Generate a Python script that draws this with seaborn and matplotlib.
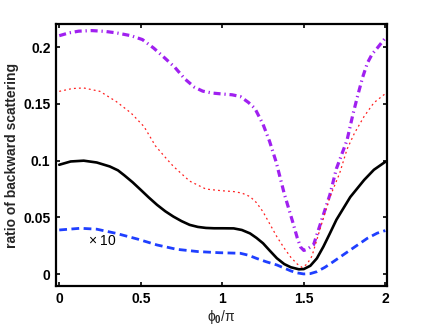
import matplotlib
matplotlib.use("Agg")
import matplotlib.pyplot as plt
import seaborn as sns

sns.set_theme(style="ticks")
plt.rcParams['font.family'] = ['Liberation Sans', 'DejaVu Sans']
plt.rcParams['mathtext.fontset'] = 'custom'
plt.rcParams['mathtext.rm'] = 'Liberation Sans'
plt.rcParams['mathtext.it'] = 'Liberation Sans'
plt.rcParams['mathtext.bf'] = 'Liberation Sans:bold'

# purple dash-dot
x_purple = [0, 0.06, 0.12, 0.2, 0.28, 0.35, 0.44, 0.51, 0.58, 0.65, 0.71, 0.77, 0.83, 0.88, 0.94, 1.0,
            1.06, 1.11, 1.16, 1.2, 1.25, 1.29, 1.33, 1.38, 1.43, 1.46, 1.48, 1.50, 1.52, 1.56, 1.61,
            1.66, 1.70, 1.765, 1.80, 1.83, 1.86, 1.89, 1.92, 1.95, 2.0]
y_purple = [0.210, 0.2125, 0.214, 0.2145, 0.2138, 0.2125, 0.210, 0.2066, 0.199, 0.190, 0.182, 0.172,
            0.1646, 0.1612, 0.1595, 0.1587, 0.158, 0.1565, 0.1513, 0.146, 0.132, 0.117, 0.099, 0.071,
            0.047, 0.032, 0.024, 0.021, 0.022, 0.026, 0.048, 0.070, 0.093, 0.118, 0.140, 0.157, 0.173,
            0.186, 0.194, 0.199, 0.208]

# red dotted
x_red = [0, 0.08, 0.15, 0.25, 0.35, 0.44, 0.52, 0.59, 0.65, 0.70, 0.80, 0.90, 1.0, 1.07, 1.12, 1.17,
         1.21, 1.25, 1.335, 1.38, 1.42, 1.46, 1.49, 1.52, 1.55, 1.60, 1.66, 1.72, 1.765, 1.81, 1.87,
         1.93, 2.0]
y_red = [0.161, 0.1635, 0.164, 0.161, 0.152, 0.142, 0.130, 0.113, 0.103, 0.095, 0.082, 0.075, 0.0735,
         0.0728, 0.0715, 0.0684, 0.063, 0.055, 0.033, 0.023, 0.015, 0.009, 0.006, 0.009, 0.016, 0.040,
         0.068, 0.089, 0.110, 0.124, 0.139, 0.151, 0.159]

# black solid
x_black = [0, 0.07, 0.15, 0.23, 0.31, 0.36, 0.4, 0.45, 0.5, 0.55, 0.6, 0.65, 0.7, 0.75, 0.8, 0.85,
           0.9, 0.95, 1.0, 1.07, 1.12, 1.17, 1.21, 1.25, 1.29, 1.335, 1.38, 1.42, 1.47, 1.50, 1.54,
           1.58, 1.62, 1.66, 1.70, 1.785, 1.87, 1.93, 2.0]
y_black = [0.0964, 0.0993, 0.100, 0.0984, 0.0949, 0.0915, 0.087, 0.081, 0.0743, 0.0675, 0.0611, 0.0555,
           0.0508, 0.0468, 0.0435, 0.0417, 0.0408, 0.0405, 0.0405, 0.0404, 0.039, 0.036, 0.032, 0.0273,
           0.021, 0.0141, 0.009, 0.0062, 0.0044, 0.0046, 0.0075, 0.014, 0.0243, 0.036, 0.048, 0.068,
           0.083, 0.092, 0.099]

# blue dashed (x10)
x_blue = [0, 0.13, 0.23, 0.35, 0.48, 0.6, 0.72, 0.85, 0.98, 1.11, 1.16, 1.21, 1.27, 1.335, 1.42, 1.46,
          1.5, 1.54, 1.58, 1.63, 1.68, 1.785, 1.89, 1.95, 2.0]
y_blue = [0.039, 0.0405, 0.0397, 0.036, 0.031, 0.0258, 0.022, 0.020, 0.019, 0.0185, 0.0168, 0.014,
          0.011, 0.0082, 0.003, 0.0012, 0.0003, 0.0006, 0.0023, 0.0062, 0.011, 0.0214, 0.0317, 0.0362,
          0.0385]

x_ticks = [0, 0.5, 1, 1.5, 2]
x_ticklabels = ['0', '0.5', '1', '1.5', '2']
y_ticks = [0, 0.05, 0.1, 0.15, 0.2]
y_ticklabels = ['0', '0.05', '0.1', '0.15', '0.2']

fig = plt.figure(figsize=(4.29, 3.27), dpi=100)
ax = fig.add_axes([0.1305, 0.1254, 0.7715, 0.8012])

sns.lineplot(x=x_purple, y=y_purple, ax=ax, color='#A020F0', linewidth=2.3,
             linestyle=(0, (2.2, 1.2, 0.4, 1.2)))
sns.lineplot(x=x_red, y=y_red, ax=ax, color='#FF2020', linewidth=0.9,
             linestyle=(0, (1.5, 2.5)))
sns.lineplot(x=x_black, y=y_black, ax=ax, color='black', linewidth=1.9)
sns.lineplot(x=x_blue, y=y_blue, ax=ax, color='#1F3FFF', linewidth=2.0,
             linestyle=(0, (2.8, 1.6)))

ax.text(0.178, 0.0296, r'$\times$ 10', fontsize=10, va='center', ha='left', color='black')

ax.set_xlim(-0.02, 2.01)
ax.set_ylim(-0.0103, 0.2203)
ax.set_xticks(x_ticks)
ax.set_xticklabels(x_ticklabels, fontweight='bold', fontsize=10)
ax.set_yticks(y_ticks)
ax.set_yticklabels(y_ticklabels, fontweight='bold', fontsize=10)
ax.tick_params(direction='in', top=True, right=True, length=3, width=1.2, pad=4, colors='black')
for s in ax.spines.values():
    s.set_linewidth(1.6)
    s.set_color('black')

ax.set_ylabel('ratio of backward scattering', fontweight='bold', fontsize=10, labelpad=3)
ax.set_xlabel(r'$\phi_{\mathbf{0}}/\pi$', fontsize=10, labelpad=2)

fig.savefig('out.png', dpi=100)
